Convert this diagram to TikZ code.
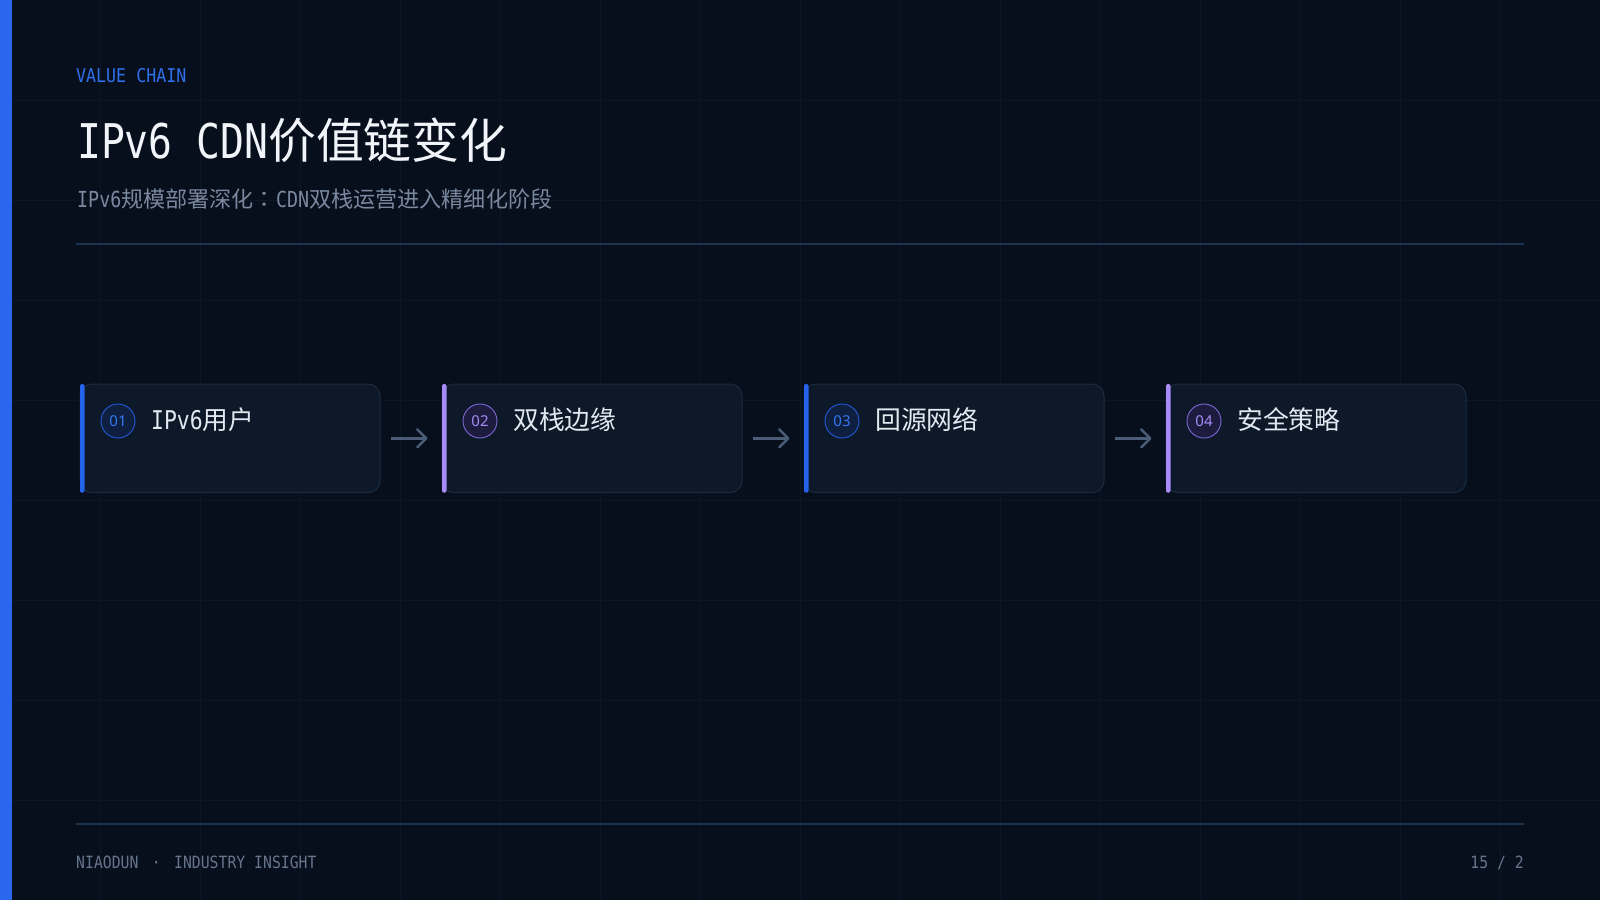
\documentclass[tikz,border=0pt]{standalone}
\usepackage{fontspec}
\setmainfont{Noto Sans}
\newfontfamily\cjkfont{Noto Sans CJK SC}
\newfontfamily\cjkpunct{Noto Sans CJK TC}
\newfontfamily\halffont{DejaVu Sans Mono}[FakeStretch=0.83]
\newfontfamily\tagfont{DejaVu Sans Mono}[FakeStretch=0.875]
\newfontfamily\numfont{Noto Sans}
\usetikzlibrary{arrows.meta,calc}
\definecolor{bgdark}{HTML}{070F1D}
\definecolor{gridline}{HTML}{0C1726}
\definecolor{sidebar}{HTML}{2B67EE}
\definecolor{accentblue}{HTML}{2F6FEA}
\definecolor{titlewhite}{HTML}{F1F5F9}
\definecolor{subgray}{HTML}{7A889F}
\definecolor{rulecol}{HTML}{1E3350}
\definecolor{cardfill}{HTML}{0D1829}
\definecolor{cardedge}{HTML}{1C2B40}
\definecolor{labelwhite}{HTML}{E2E8F0}
\definecolor{arrowgray}{HTML}{4A5C76}
\definecolor{footgray}{HTML}{66758C}
\definecolor{barblue}{HTML}{2563EB}
\definecolor{barpurple}{HTML}{A78BFA}
\definecolor{ringblue}{HTML}{2255CC}
\definecolor{ringpurple}{HTML}{7461C8}
\definecolor{discblue}{HTML}{0E1F40}
\definecolor{discpurple}{HTML}{1D1C3E}
\definecolor{numblue}{HTML}{3577F0}
\definecolor{numpurple}{HTML}{A48BF5}
\tikzset{card/.style={draw=cardedge, fill=cardfill, line width=1pt, rounded corners=12pt,
		anchor=north west, minimum width=300pt, minimum height=108.7pt, outer sep=0pt},
	numdisc/.style={circle, line width=1pt, minimum size=34pt,
		font=\numfont\fontsize{15}{18}\selectfont},
	steplabel/.style={anchor=base west, text=labelwhite,
		font=\cjkfont\fontsize{25.8}{30}\selectfont},
	flow/.style={draw=arrowgray, line width=2.5pt,
		-{Straight Barb[length=9pt,width=18pt,line cap=round,line join=round]}}}

\begin{document}
\begin{tikzpicture}
    [x=1pt, y=-1pt, every node/.style={inner sep=0pt}]
    \useasboundingbox (0,0) rectangle (1600,900);
    \fill[bgdark] (0,0) rectangle (1600,900);
    \foreach \gx in {100,200,...,1500} \draw[gridline, line width=1pt] (\gx,0) -- (\gx,900);
    \foreach \gy in {100,200,...,800} \draw[gridline, line width=1pt] (0,\gy) -- (1600,\gy);
    \fill[sidebar] (0,0) rectangle (12,900);
    %		header
    \node[anchor=base west, text=accentblue, font=\tagfont\fontsize{19}{22}\selectfont] (kicker) at (76,82) {VALUE CHAIN};
    \node[anchor=base west, text=titlewhite, font=\fontsize{47.8}{56}\selectfont] (title) at (77,158) {{\halffont IPv6 CDN}{\cjkfont 价值链变化}};
    \node[anchor=base west, text=subgray, font=\fontsize{22.1}{26}\selectfont] (subtitle) at (77,207) {{\halffont IPv6}{\cjkfont 规模部署深化}{\cjkpunct ：}{\halffont CDN}{\cjkfont 双栈运营进入精细化阶段}};
    \draw[rulecol, line width=1.5pt] (76,244) -- (1524,244);
    %		cards
    \node[card] (c1) at (80,384) {};
    \node[card] (c2) at (442,384) {};
    \node[card] (c3) at (804,384) {};
    \node[card] (c4) at (1166,384) {};
    \fill[barblue, rounded corners=2pt] (c1.north west) rectangle ([xshift=4.5pt]c1.south west);
    \fill[barpurple, rounded corners=2pt] (c2.north west) rectangle ([xshift=4.5pt]c2.south west);
    \fill[barblue, rounded corners=2pt] (c3.north west) rectangle ([xshift=4.5pt]c3.south west);
    \fill[barpurple, rounded corners=2pt] (c4.north west) rectangle ([xshift=4.5pt]c4.south west);
    \node[numdisc, draw=ringblue, fill=discblue, text=numblue] (n1) at ($(c1.north west)+(38,37)$) {01};
    \node[numdisc, draw=ringpurple, fill=discpurple, text=numpurple] (n2) at ($(c2.north west)+(38,37)$) {02};
    \node[numdisc, draw=ringblue, fill=discblue, text=numblue] (n3) at ($(c3.north west)+(38,37)$) {03};
    \node[numdisc, draw=ringpurple, fill=discpurple, text=numpurple] (n4) at ($(c4.north west)+(38,37)$) {04};
    \node[steplabel] (l1) at ($(c1.north west)+(71,45.5)$) {{\halffont IPv6}用户};
    \node[steplabel] (l2) at ($(c2.north west)+(71,45.5)$) {双栈边缘};
    \node[steplabel] (l3) at ($(c3.north west)+(71,45.5)$) {回源网络};
    \node[steplabel] (l4) at ($(c4.north west)+(71,45.5)$) {安全策略};
    \draw[flow] ([xshift=11pt]c1.east) -- ([xshift=-14.5pt]c2.west);
    \draw[flow] ([xshift=11pt]c2.east) -- ([xshift=-14.5pt]c3.west);
    \draw[flow] ([xshift=11pt]c3.east) -- ([xshift=-14.5pt]c4.west);
    %		footer
    \draw[rulecol, line width=1.5pt] (76,824) -- (1524,824);
    \node[anchor=base west, text=footgray, font=\tagfont\fontsize{16.9}{20}\selectfont] (brand) at (76,868) {NIAODUN \makebox[17.8pt]{·} INDUSTRY INSIGHT};
    \node[anchor=base east, text=footgray, font=\tagfont\fontsize{16.9}{20}\selectfont] (pageno) at (1524,868) {15 / 2};
    \end{tikzpicture}
\end{document}
